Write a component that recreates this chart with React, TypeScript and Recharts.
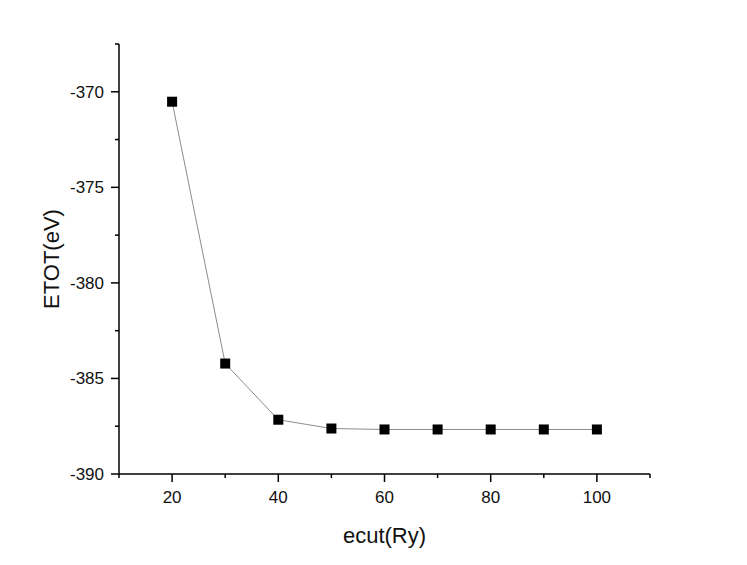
import React from 'react'
import { LineChart, Line, XAxis, YAxis } from 'recharts'

// ecut convergence test
const ecut = [20, 30, 40, 50, 60, 70, 80, 90, 100]
const etot = [-370.52, -384.22, -387.16, -387.62, -387.67, -387.67, -387.67, -387.67, -387.67]

const xTicks = [10, 20, 30, 40, 50, 60, 70, 80, 90, 100, 110]
const yTicks = [-390, -387.5, -385, -382.5, -380, -377.5, -375, -372.5, -370, -367.5]

const data = ecut.map((x, i) => ({ ecut: x, etot: etot[i] }))

const FONT = '"Liberation Sans", Arial, sans-serif'

function XTick({ x, y, payload }: any) {
  const v = payload.value as number
  const major = v % 20 === 0
  return (
    <g>
      <line x1={x} x2={x} y1={y} y2={y + (major ? 8 : 4)} stroke="#000" strokeWidth={1.5} />
      {major && (
        <text x={x} y={y + 29} textAnchor="middle" fontSize={17} fontFamily={FONT} fill="#111">
          {v}
        </text>
      )}
    </g>
  )
}

function YTick({ x, y, payload }: any) {
  const v = payload.value as number
  const major = v % 5 === 0
  return (
    <g>
      <line x1={x - (major ? 8 : 4)} x2={x} y1={y} y2={y} stroke="#000" strokeWidth={1.5} />
      {major && (
        <text x={x - 15} y={y + 6} textAnchor="end" fontSize={17} fontFamily={FONT} fill="#111">
          {v}
        </text>
      )}
    </g>
  )
}

function SquareDot({ cx, cy, index }: any) {
  if (cx == null || cy == null) return null
  return <rect key={index} x={cx - 5} y={cy - 5} width={10} height={10} fill="#000" />
}

function XLabel({ viewBox }: any) {
  const { x, y, width } = viewBox
  return (
    <text x={x + width / 2} y={y + 69} textAnchor="middle" fontSize={22} fontFamily={FONT} fill="#111">
      ecut(Ry)
    </text>
  )
}

function YLabel({ viewBox }: any) {
  const { x, y, height } = viewBox
  const cx = x + 59
  const cy = y + height / 2
  return (
    <text
      x={cx}
      y={cy}
      transform={`rotate(-90 ${cx} ${cy})`}
      textAnchor="middle"
      fontSize={22}
      fontFamily={FONT}
      fill="#111"
    >
      ETOT(eV)
    </text>
  )
}

export default function App() {
  return (
    <div style={{ position: 'absolute', left: 0, top: 0, width: 747, height: 565, background: '#fff' }}>
      <LineChart width={747} height={565} data={data} margin={{ top: 44, right: 97, bottom: 21, left: 0 }}>
        <XAxis
          dataKey="ecut"
          type="number"
          domain={[10, 110]}
          ticks={xTicks}
          interval={0}
          height={70}
          tickSize={0}
          tickMargin={0}
          tickLine={false}
          axisLine={{ stroke: '#000', strokeWidth: 1.5 }}
          tick={<XTick />}
          label={<XLabel />}
        />
        <YAxis
          type="number"
          domain={[-390, -367.5]}
          ticks={yTicks}
          interval={0}
          width={119}
          tickSize={0}
          tickMargin={0}
          tickLine={false}
          axisLine={{ stroke: '#000', strokeWidth: 1.5 }}
          tick={<YTick />}
          label={<YLabel />}
          allowDataOverflow
        />
        <Line
          dataKey="etot"
          type="linear"
          stroke="#8c8c8c"
          strokeWidth={1}
          dot={<SquareDot />}
          activeDot={false}
          isAnimationActive={false}
        />
      </LineChart>
    </div>
  )
}
